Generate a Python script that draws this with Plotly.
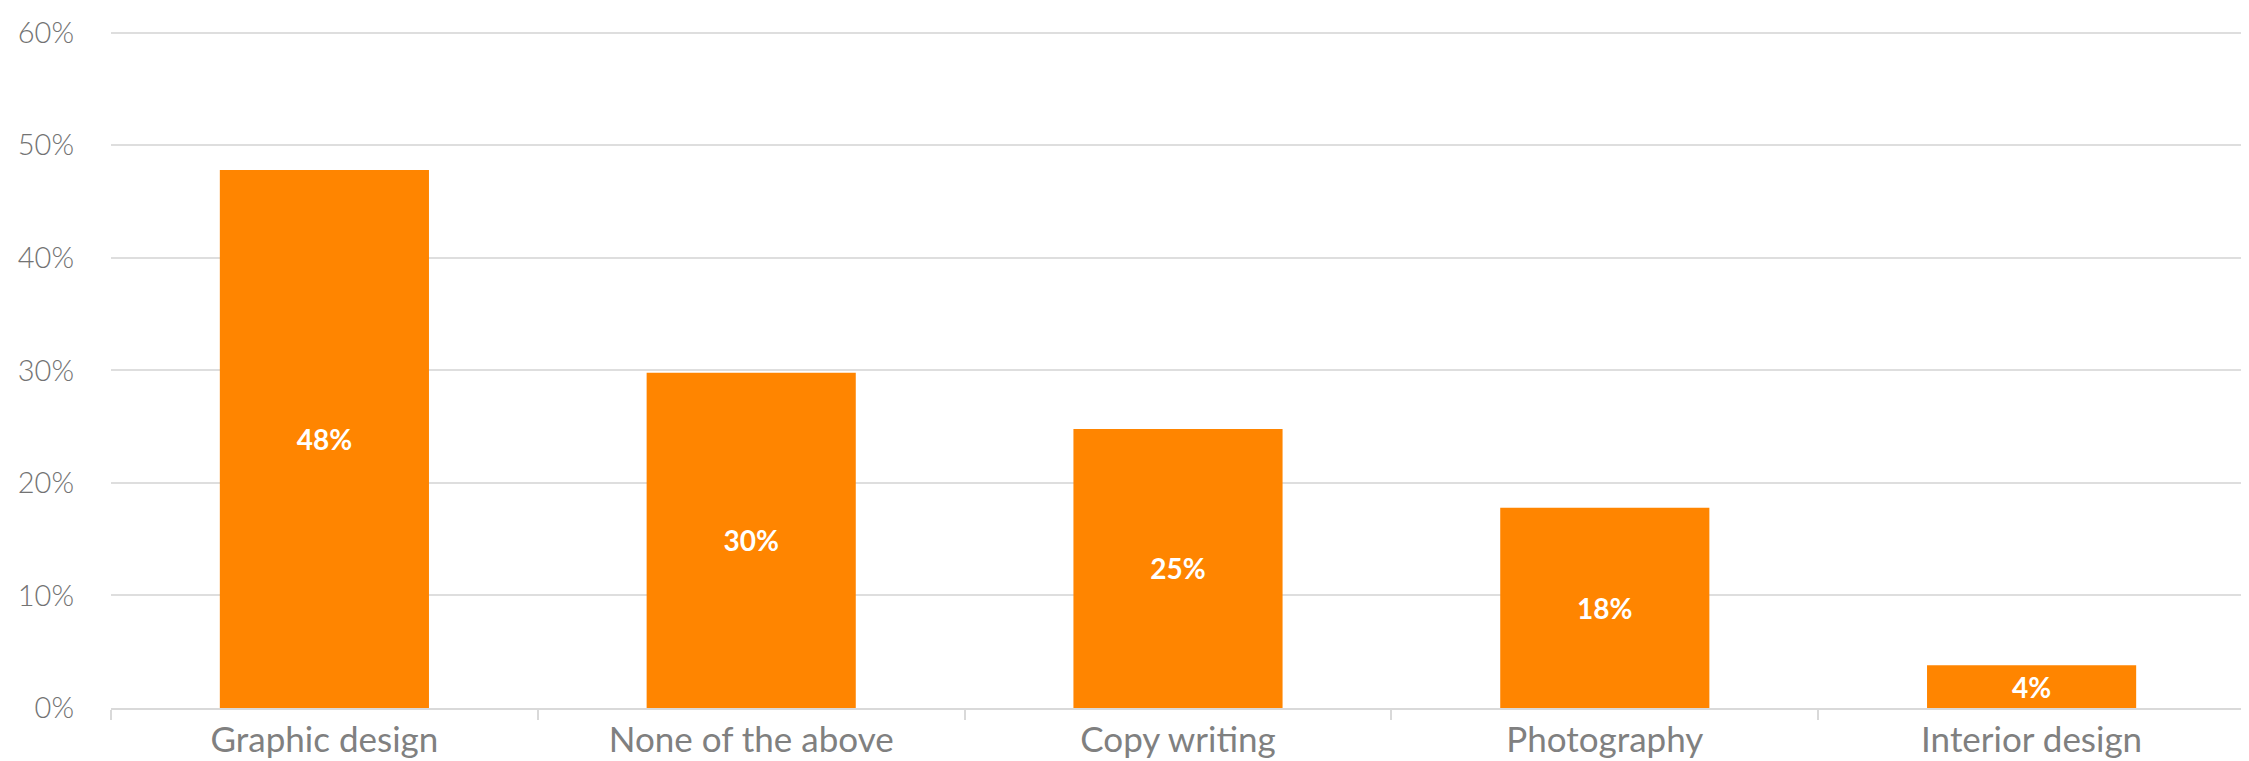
import plotly.graph_objects as go

categories = ["Graphic design", "None of the above", "Copy writing", "Photography", "Interior design"]
values = [0.478, 0.298, 0.248, 0.178, 0.038]
y_tickvals = [0, 0.1, 0.2, 0.3, 0.4, 0.5, 0.6]
y_ticktext = ["0%", "10%", "20%", "30%", "40%", "50%", "60%"]

fig = go.Figure(go.Bar(
    x=categories,
    y=values,
    marker=dict(color="#FF8500", line=dict(width=0)),
    width=0.49,
    texttemplate="%{y:.0%}",
    textposition="inside",
    insidetextanchor="middle",
    constraintext="none",
    textfont=dict(family="Lato", size=28, color="white", weight="bold"),
    hoverinfo="skip",
    cliponaxis=False,
))

fig.update_layout(
    width=2249, height=761,
    margin=dict(l=103, r=12, t=22, b=61, autoexpand=False),
    paper_bgcolor="white", plot_bgcolor="white",
    showlegend=False,
    bargap=0.51,
    font=dict(family="Lato", color="#808080"),
)
fig.update_xaxes(
    automargin=False,
    showline=True, linecolor="#D9D9D9", linewidth=2,
    ticks="outside", tickson="boundaries", ticklen=10, tickcolor="#D9D9D9", tickwidth=2,
    tickfont=dict(family="Lato", size=35, color="#808080"),
    showgrid=False,
)
fig.update_yaxes(
    automargin=False,
    range=[0, 0.6025],
    tickvals=y_tickvals, ticktext=y_ticktext,
    showgrid=True, gridcolor="#DEDEDE", gridwidth=2,
    zeroline=False, showline=False, ticks="",
    ticklabelstandoff=36,
    tickfont=dict(family="Lato", size=29, color="#737373", weight=300),
)

fig.write_html("out.html")
